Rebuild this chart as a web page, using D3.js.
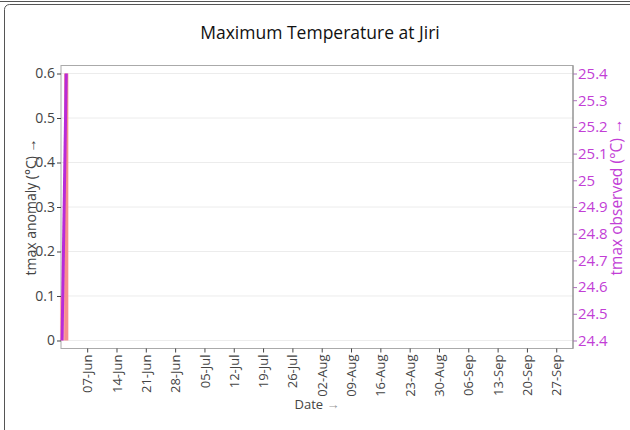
<!DOCTYPE html>
<html>
<head>
<meta charset="utf-8">
<script src="https://cdn.jsdelivr.net/npm/d3@7"></script>
<style>
body { margin: 0; background: #fff; }
text { font-family: "Open Sans", sans-serif; }
</style>
</head>
<body>
<div id="chart"></div>
<script>
// data
let dates = ['2023-06-01', '2023-06-02']
let anomaly = [0.1, 0.6]
let observed = [24.4, 25.4]

let xTickDates = ['2023-06-07','2023-06-14','2023-06-21','2023-06-28','2023-07-05','2023-07-12',
	'2023-07-19','2023-07-26','2023-08-02','2023-08-09','2023-08-16','2023-08-23','2023-08-30',
	'2023-09-06','2023-09-13','2023-09-20','2023-09-27']
let leftTicks = [0, 0.1, 0.2, 0.3, 0.4, 0.5, 0.6]
let rightTicks = [24.4, 24.5, 24.6, 24.7, 24.8, 24.9, 25, 25.1, 25.2, 25.3, 25.4]

let width = 630
let height = 430
let margin = {left: 61, right: 57, top: 65.5, bottom: 81.5}
let purple = '#b92ad8'

let parse = d3.utcParse('%Y-%m-%d')
let rows = dates.map((d, i) => ({date: parse(d), anomaly: anomaly[i], observed: observed[i]}))

const svg = d3.select('#chart')
	.append('svg')
	.attr('width', width)
	.attr('height', height)

// card border
svg.append('line')
	.attr('x1', 0).attr('x2', width)
	.attr('y1', 1.5).attr('y2', 1.5)
	.attr('stroke', '#555')
svg.append('rect')
	.attr('x', 4.5).attr('y', 4.5)
	.attr('width', width + 20).attr('height', height + 20)
	.attr('rx', 5)
	.attr('fill', 'none')
	.attr('stroke', '#555')

let xScale = d3.scaleUtc()
	.domain([new Date(Date.UTC(2023, 4, 31, 18)), new Date(Date.UTC(2023, 9, 1))])
	.range([margin.left, width - margin.right])

let yLeft = d3.scaleLinear()
	.domain([-0.018, 0.618])
	.range([height - margin.bottom, margin.top])

let yRight = d3.scaleLinear()
	.domain([24.37, 25.43])
	.range([height - margin.bottom, margin.top])

let barColor = d3.scaleLinear()
	.domain([0, 0.6])
	.range(['#fbbcb8', '#f68e8d'])

// grid
svg.selectAll('.grid')
	.data(leftTicks)
	.enter()
	.append('line')
	.attr('x1', margin.left)
	.attr('x2', width - margin.right)
	.attr('y1', d => yLeft(d))
	.attr('y2', d => yLeft(d))
	.attr('stroke', '#ececec')

// plot frame
svg.append('rect')
	.attr('x', margin.left)
	.attr('y', margin.top)
	.attr('width', width - margin.left - margin.right)
	.attr('height', height - margin.top - margin.bottom)
	.attr('fill', 'none')
	.attr('stroke', '#aaa')

// bars
let halfDay = 12 * 3600 * 1000
svg.selectAll('.bar')
	.data(rows)
	.enter()
	.append('rect')
	.attr('x', d => xScale(new Date(d.date - halfDay)))
	.attr('width', d => xScale(new Date(+d.date + halfDay)) - xScale(new Date(d.date - halfDay)))
	.attr('y', d => yLeft(d.anomaly))
	.attr('height', d => yLeft(0) - yLeft(d.anomaly))
	.attr('fill', d => barColor(d.anomaly))

// observed line
let line = d3.line()
	.x(d => xScale(d.date))
	.y(d => yRight(d.observed))

svg.append('path')
	.datum(rows)
	.attr('d', line)
	.attr('fill', 'none')
	.attr('stroke', purple)
	.attr('stroke-width', 3)

// axes
let xG = svg.append('g')
	.attr('transform', `translate(0,${height - margin.bottom})`)
	.call(d3.axisBottom(xScale)
		.tickValues(xTickDates.map(parse))
		.tickSize(4)
		.tickFormat(d3.utcFormat('%d-%b')))
xG.select('.domain').remove()
xG.selectAll('line').attr('stroke', '#444')
xG.selectAll('text')
	.attr('transform', 'rotate(-90)')
	.attr('x', -6)
	.attr('y', 0)
	.attr('dy', '0.35em')
	.attr('text-anchor', 'end')
	.attr('fill', '#444')
	.attr('font-size', 13)
	.attr('font-family', '"Open Sans", sans-serif')

let yG = svg.append('g')
	.attr('transform', `translate(${margin.left},0)`)
	.call(d3.axisLeft(yLeft).tickValues(leftTicks).tickSize(4).tickPadding(2).tickFormat(d3.format('')))
yG.select('.domain').remove()
yG.selectAll('line').attr('stroke', '#444')
yG.selectAll('text')
	.attr('fill', '#444')
	.attr('font-size', 14)
	.attr('font-family', '"Open Sans", sans-serif')

let yRG = svg.append('g')
	.attr('transform', `translate(${width - margin.right},0)`)
	.call(d3.axisRight(yRight).tickValues(rightTicks).tickSize(4).tickPadding(1).tickFormat(d3.format('')))
yRG.select('.domain').remove()
yRG.selectAll('line').attr('stroke', '#b070c0')
yRG.selectAll('text')
	.attr('fill', '#c23ed6')
	.attr('font-size', 15)
	.attr('font-family', '"Open Sans", sans-serif')

svg.append('line')
	.attr('x1', width - margin.right).attr('x2', width - margin.right)
	.attr('y1', margin.top).attr('y2', height - margin.bottom)
	.attr('stroke', '#888')

// titles
svg.append('text')
	.attr('x', 320)
	.attr('y', 39)
	.attr('text-anchor', 'middle')
	.attr('font-size', 17.5)
	.attr('font-weight', 500)
	.attr('fill', '#111')
	.text('Maximum Temperature at Jiri')

let midY = (margin.top + height - margin.bottom) / 2

svg.append('text')
	.attr('transform', `translate(36,${midY}) rotate(-90)`)
	.attr('text-anchor', 'middle')
	.attr('font-size', 14)
	.attr('fill', '#444')
	.text('tmax anomaly (°C) →')

svg.append('text')
	.attr('transform', `translate(622,${midY - 10}) rotate(-90)`)
	.attr('text-anchor', 'middle')
	.attr('font-size', 15.5)
	.attr('fill', '#c23ed6')
	.text('tmax observed (°C) →')

let dateTitle = svg.append('text')
	.attr('x', (margin.left + width - margin.right) / 2)
	.attr('y', 409)
	.attr('text-anchor', 'middle')
	.attr('font-size', 13)
	.attr('fill', '#444')
dateTitle.append('tspan').text('Date ')
dateTitle.append('tspan').attr('fill', '#999').text('→')
</script>
</body>
</html>
